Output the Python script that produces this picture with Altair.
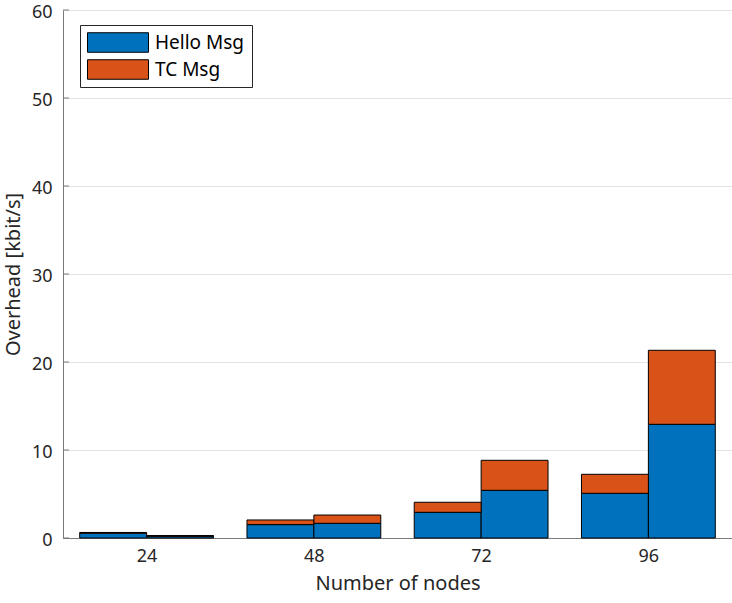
import altair as alt
import pandas as pd

# Category labels, series and colours
node_counts = ["24", "48", "72", "96"]
series = ["Hello Msg", "TC Msg"]
series_colors = ["#0072BD", "#D95319"]
y_ticks = [0, 10, 20, 30, 40, 50, 60]

# Overhead in kbit/s: two stacked bars per node count
hello_first = [0.55, 1.52, 2.92, 5.08]
tc_first = [0.08, 0.53, 1.14, 2.16]
hello_second = [0.20, 1.67, 5.42, 12.92]
tc_second = [0.08, 0.94, 3.41, 8.41]

rows = []
for g in range(len(node_counts)):
    pairs = [(hello_first[g], tc_first[g]), (hello_second[g], tc_second[g])]
    for b, (h, t) in enumerate(pairs):
        rows.append({"group": g + 1, "bar": b, "series": series[0], "order": 0, "value": h})
        rows.append({"group": g + 1, "bar": b, "series": series[1], "order": 1, "value": t})
df = pd.DataFrame(rows)

FONT = "Noto Sans"
TEXT = "#262626"
AXIS = "#7a7a7a"
bar_width = 0.4
label_expr = "[" + ",".join(f"'{n}'" for n in node_counts) + "][datum.value - 1]"

y_scale = alt.Scale(domain=[0, 60], nice=False)
y_axis = alt.Axis(
    values=y_ticks,
    title="Overhead [kbit/s]",
    grid=True,
    ticks=False,
    labelPadding=11,
    labelOffset=2,
    titlePadding=8,
)

bars = (
    alt.Chart(df)
    .transform_stack(
        stack="value",
        groupby=["group", "bar"],
        as_=["y0", "y1"],
        sort=[alt.SortField("order")],
    )
    .transform_calculate(
        x0=f"datum.group - {bar_width} + {bar_width} * datum.bar",
        x1=f"datum.group + {bar_width} * datum.bar",
    )
    .mark_bar(stroke="black", strokeWidth=1, opacity=1)
    .encode(
        x=alt.X(
            "x0:Q",
            scale=alt.Scale(domain=[0.5, 4.5], nice=False, zero=False),
            axis=alt.Axis(
                values=[1, 2, 3, 4],
                labelExpr=label_expr,
                title="Number of nodes",
                grid=False,
                ticks=False,
                labelPadding=9,
                titlePadding=8,
            ),
        ),
        x2="x1:Q",
        y=alt.Y("y1:Q", scale=y_scale, axis=y_axis),
        y2="y0:Q",
        color=alt.Color(
            "series:N",
            scale=alt.Scale(domain=series, range=series_colors),
            legend=alt.Legend(
                title=None,
                orient="none",
                legendX=17,
                legendY=15,
                fillColor="white",
                strokeColor=TEXT,
                padding=7,
                symbolType="M-1,-0.32L1,-0.32L1,0.32L-1,0.32Z",
                symbolSize=3721,
                symbolStrokeColor="black",
                symbolStrokeWidth=1,
                symbolOpacity=1,
                labelFont=FONT,
                labelFontSize=19,
                labelColor="black",
                labelOffset=6,
                rowPadding=6,
                clipHeight=21,
            ),
        ),
        order=alt.Order("order:Q"),
    )
)

# short inward tick marks on the y axis
ticks = (
    alt.Chart(pd.DataFrame({"tick": y_ticks}))
    .mark_rule(color=AXIS, strokeWidth=1)
    .encode(
        y=alt.Y("tick:Q", scale=y_scale, axis=y_axis),
        x=alt.value(0),
        x2=alt.value(6),
    )
)

chart = (
    alt.layer(bars, ticks)
    .properties(
        width=669,
        height=528,
        autosize=alt.AutoSizeParams(type="none"),
        padding={"left": 63, "top": 10, "right": 0, "bottom": 65},
        background="white",
    )
    .configure_view(stroke=None)
    .configure_axis(
        labelFont=FONT,
        titleFont=FONT,
        labelFontSize=18,
        titleFontSize=20,
        titleFontWeight="normal",
        labelColor=TEXT,
        titleColor=TEXT,
        domainColor=AXIS,
        domainWidth=1,
        gridColor="#e3e3e3",
        gridWidth=1,
    )
)

chart.save("out.html", embed_options={"renderer": "svg", "actions": False})
